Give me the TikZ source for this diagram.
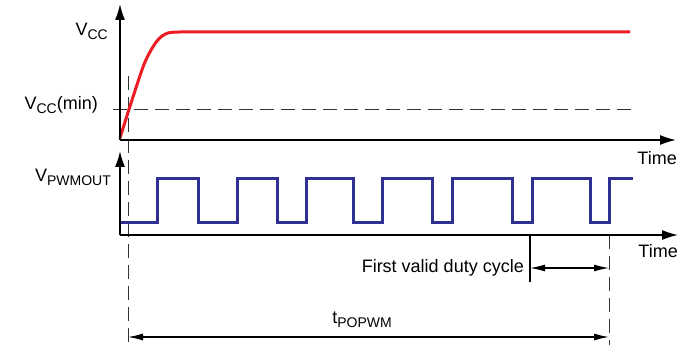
\documentclass[tikz,border=0pt]{standalone}
\usepackage{fontspec}
\setmainfont{Liberation Sans}
\usetikzlibrary{arrows.meta}
\definecolor{vccred}{RGB}{237,28,36}
\definecolor{pwmblue}{RGB}{46,49,146}
\newcommand{\lowsub}[1]{\raisebox{-4pt}{\fontsize{14pt}{14pt}\selectfont #1}}
\begin{document}
\begin{tikzpicture}[x=1pt, y=-1pt, every node/.style={font=\fontsize{18pt}{20pt}\selectfont, inner sep=0pt},
  axis/.style={line width=1.4pt, -{Latex[length=16pt,width=10pt]}},
  guide/.style={line width=0.9pt, black!80, dash pattern=on 14pt off 7pt},
  dim/.style={line width=1.2pt, {Latex[length=15pt,width=7pt]}-{Latex[length=15pt,width=7pt]}}]
\useasboundingbox (0,0) rectangle (686,347);
\coordinate (o1) at (120,140);
\coordinate (y1) at (120,4);
\coordinate (x1) at (676,140);
\coordinate (o2) at (120,235);
\coordinate (y2) at (120,151);
\coordinate (x2) at (678,235);
\coordinate (m1) at (113,109);
\coordinate (m2) at (637,109);
\coordinate (s1) at (128,76);
\coordinate (s2) at (128,345);
\coordinate (e1) at (609,235);
\coordinate (e2) at (609,345);
\coordinate (f1) at (530,235);
\coordinate (f2) at (530,282);
\coordinate (fa) at (530,268);
\coordinate (fb) at (609,268);
\coordinate (ta) at (128,337);
\coordinate (tb) at (609,337);
\node[anchor=east] (vcc) at (108,31) {V\lowsub{CC}};
\node[anchor=east] (vccmin) at (98,105) {V\lowsub{CC}(min)};
\node[anchor=east] (vpwm) at (111,177) {V\lowsub{PWMOUT}};
\node[anchor=east] (time1) at (677,158) {Time};
\node[anchor=east] (time2) at (678,251) {Time};
\node[anchor=east] (first) at (524,268) {First valid duty cycle};
\node (tpo) at (362,320) {t\lowsub{POPWM}};
\draw[guide] (m1) -- (m2);
\draw[guide] (s1) -- (s2);
\draw[guide] (e1) -- (e2);
\draw[line width=1.2pt] (f1) -- (f2);
\draw[line width=3pt, vccred, line join=round] plot[smooth] coordinates {(120,138) (132,100) (145,62) (157,41) (168,33) (185,32)} -- (630,32);
\draw[line width=3pt, pwmblue] (120,223) -- (157,223) -- (157,179) -- (198,179) -- (198,223) -- (237,223) -- (237,179) -- (277,179) -- (277,223) -- (306,223) -- (306,179) -- (353,179) -- (353,223) -- (382,223) -- (382,179) -- (432,179) -- (432,223) -- (452,223) -- (452,179) -- (512,179) -- (512,223) -- (532,223) -- (532,179) -- (590,179) -- (590,223) -- (609,223) -- (609,179) -- (633,179);
\draw[axis] (o1) -- (y1);
\draw[axis] (o1) -- (x1);
\draw[axis] (o2) -- (y2);
\draw[axis] (o2) -- (x2);
\draw[dim] (fa) -- (fb);
\draw[dim] (ta) -- (tb);
\end{tikzpicture}
\end{document}
